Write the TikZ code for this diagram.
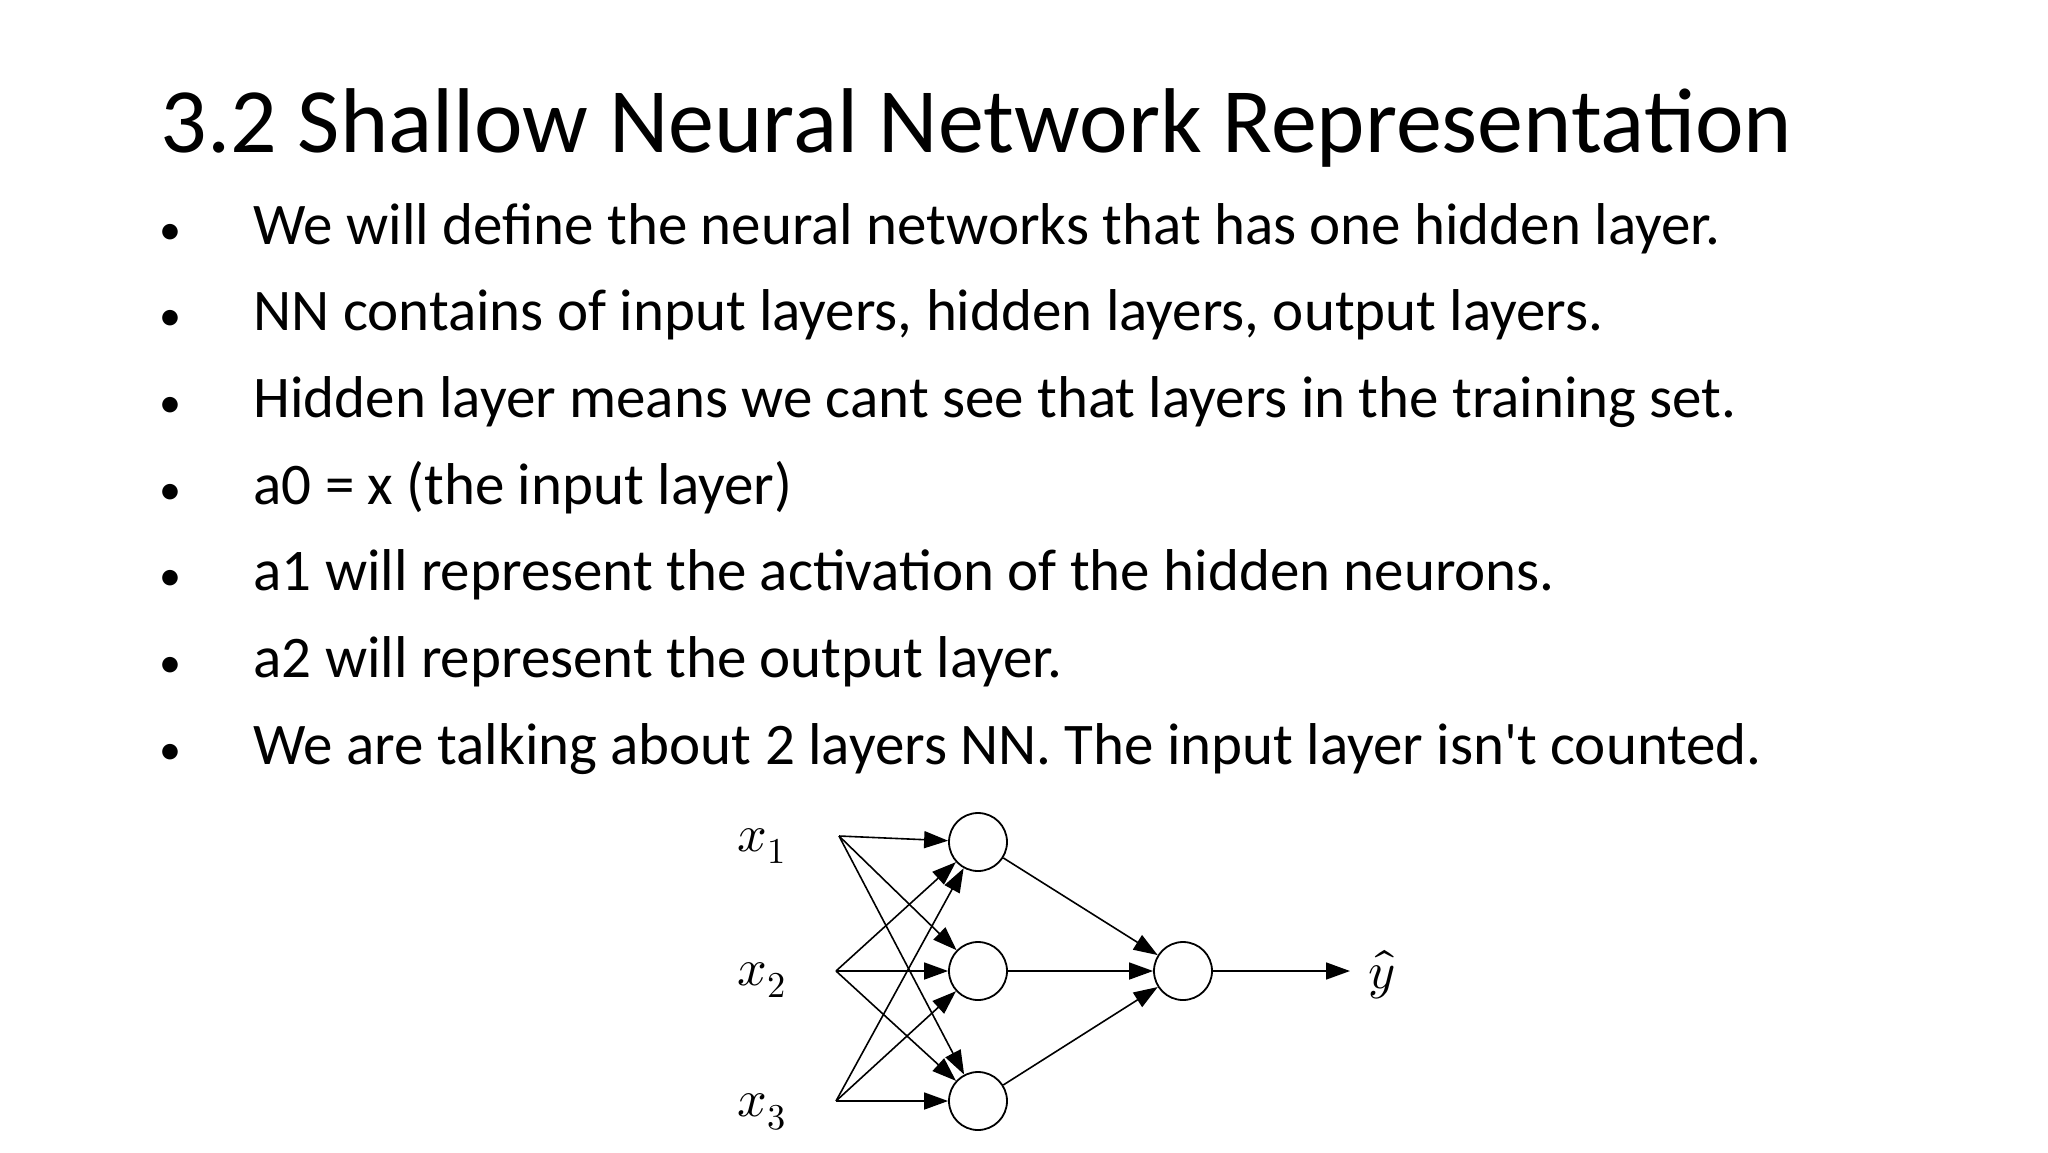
\documentclass[tikz,border=0pt]{standalone}
\usepackage{unicode-math}
\setmainfont{Carlito}
\usetikzlibrary{arrows.meta}
\begin{document}
\begin{tikzpicture}[x=1pt,y=-1pt,
  neuron/.style={circle,draw,line width=1.8pt,minimum size=58pt,inner sep=0pt,fill=white},
  conn/.style={line width=1.6pt,-{Triangle[length=24pt,width=17pt]}},
  bl/.style={anchor=base west,font=\fontsize{59}{70}\selectfont},
  lab/.style={font=\fontsize{52}{60}\selectfont}]
\useasboundingbox[fill=white] (0,0) rectangle (2048,1152);
\node[anchor=base west,font=\fontsize{92}{100}\selectfont] (title) at (157,152) {3.2 Shallow Neural Network Representation};
\foreach \i/\t in {0/{We will define the neural networks that has one hidden layer.},
  1/{NN contains of input layers, hidden layers, output layers.},
  2/{Hidden layer means we cant see that layers in the training set.},
  3/{a0 = x (the input layer)},
  4/{a1 will represent the activation of the hidden neurons.},
  5/{a2 will represent the output layer.},
  6/{We are talking about 2 layers NN. The input layer isn\textquotesingle t counted.}}{
  \node[bl,font=\fontsize{44}{50}\selectfont] (b\i) at (156,244+86.7*\i) {•};
  \node[bl] (t\i) at (250,244+86.7*\i) {\t};
}
\node[lab] (l1) at (762,846) {$x_1$};
\node[lab] (l2) at (762,980) {$x_2$};
\node[lab] (l3) at (762,1112) {$x_3$};
\coordinate (s1) at (839,836);
\coordinate (s2) at (836,971);
\coordinate (s3) at (836,1101);
\node[neuron] (h1) at (978,842) {};
\node[neuron] (h2) at (978,971) {};
\node[neuron] (h3) at (978,1101) {};
\node[neuron] (o) at (1183,971) {};
\coordinate (e) at (1350,971);
\node[lab] (y) at (1382,975) {$\hat{y}$};
\foreach \s in {s1,s2,s3}{\foreach \h in {h1,h2,h3}{\draw[conn] (\s) -- (\h);}}
\foreach \h in {h1,h2,h3}{\draw[conn] (\h) -- (o);}
\draw[conn] (o) -- (e);
\end{tikzpicture}
\end{document}
